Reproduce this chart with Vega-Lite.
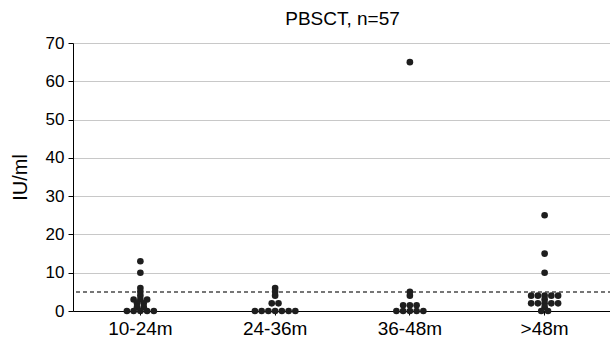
{
  "$schema": "https://vega.github.io/schema/vega-lite/v6.json",
  "autosize": "none",
  "width": 539,
  "height": 268,
  "padding": {"left": 73, "top": 43, "right": 0, "bottom": 30},
  "background": "white",
  "title": {
    "text": "PBSCT, n=57",
    "fontSize": 19,
    "fontWeight": "normal",
    "font": "Liberation Sans",
    "color": "black",
    "baseline": "bottom",
    "offset": 11,
    "dy": 25,
    "anchor": "middle"
  },
  "config": {
    "view": {"stroke": null},
    "font": "Liberation Sans",
    "axis": {
      "domainColor": "black",
      "tickColor": "black",
      "labelColor": "black",
      "titleColor": "black",
      "labelFont": "Liberation Sans",
      "titleFont": "Liberation Sans"
    },
    "axisY": {
      "titleFontSize": 20,
      "titleFontWeight": "normal",
      "titlePadding": 15,
      "values": [0, 5, 10, 15, 20, 25, 30, 35, 40, 45, 50, 55, 60, 65, 70],
      "labelExpr": "datum.value % 10 == 0 ? datum.label : ''",
      "labelOverlap": false,
      "labelFontSize": 17,
      "labelPadding": 4,
      "tickSize": 5,
      "grid": true,
      "gridColor": "#c8c8c8",
      "gridOpacity": {"condition": {"test": "datum.value % 10 != 0", "value": 0}, "value": 1}
    }
  },
  "data": {
    "values": [
      {"group": "10-24m", "iu": 13}, {"group": "10-24m", "iu": 10}, {"group": "10-24m", "iu": 6},
      {"group": "10-24m", "iu": 5}, {"group": "10-24m", "iu": 4}, {"group": "10-24m", "iu": 3},
      {"group": "10-24m", "iu": 3}, {"group": "10-24m", "iu": 3}, {"group": "10-24m", "iu": 2},
      {"group": "10-24m", "iu": 2}, {"group": "10-24m", "iu": 1}, {"group": "10-24m", "iu": 1},
      {"group": "10-24m", "iu": 0}, {"group": "10-24m", "iu": 0}, {"group": "10-24m", "iu": 0},
      {"group": "10-24m", "iu": 0}, {"group": "10-24m", "iu": 0},
      {"group": "24-36m", "iu": 6}, {"group": "24-36m", "iu": 5}, {"group": "24-36m", "iu": 4},
      {"group": "24-36m", "iu": 2}, {"group": "24-36m", "iu": 2}, {"group": "24-36m", "iu": 0},
      {"group": "24-36m", "iu": 0}, {"group": "24-36m", "iu": 0}, {"group": "24-36m", "iu": 0},
      {"group": "24-36m", "iu": 0}, {"group": "24-36m", "iu": 0}, {"group": "24-36m", "iu": 0},
      {"group": "36-48m", "iu": 65}, {"group": "36-48m", "iu": 5}, {"group": "36-48m", "iu": 4},
      {"group": "36-48m", "iu": 1.5}, {"group": "36-48m", "iu": 1.5}, {"group": "36-48m", "iu": 1.5},
      {"group": "36-48m", "iu": 0}, {"group": "36-48m", "iu": 0}, {"group": "36-48m", "iu": 0},
      {"group": "36-48m", "iu": 0}, {"group": "36-48m", "iu": 0},
      {"group": ">48m", "iu": 25}, {"group": ">48m", "iu": 15}, {"group": ">48m", "iu": 10},
      {"group": ">48m", "iu": 4}, {"group": ">48m", "iu": 4}, {"group": ">48m", "iu": 4},
      {"group": ">48m", "iu": 4}, {"group": ">48m", "iu": 4}, {"group": ">48m", "iu": 3},
      {"group": ">48m", "iu": 2}, {"group": ">48m", "iu": 2}, {"group": ">48m", "iu": 2},
      {"group": ">48m", "iu": 2}, {"group": ">48m", "iu": 2}, {"group": ">48m", "iu": 1},
      {"group": ">48m", "iu": 0}, {"group": ">48m", "iu": 0}
    ]
  },
  "layer": [
    {
      "mark": {"type": "rule", "strokeDash": [4, 3], "color": "#777777", "strokeWidth": 1.2},
      "encoding": {"y": {"datum": 5, "type": "quantitative", "scale": {"domain": [0, 70], "nice": false}, "title": "IU/ml"}}
    },
    {
      "transform": [
        {"window": [{"op": "row_number", "as": "rn"}, {"op": "count", "as": "cnt"}], "groupby": ["group", "iu"], "frame": [null, null]},
        {"calculate": "datum.rn - (datum.cnt + 1) / 2", "as": "slot"}
      ],
      "mark": {"type": "circle", "size": 44, "color": "#1e1e1e", "opacity": 1},
      "encoding": {
        "x": {
          "field": "group",
          "type": "nominal",
          "sort": ["10-24m", "24-36m", "36-48m", ">48m"],
          "scale": {"paddingInner": 0, "paddingOuter": 0},
          "axis": {"title": null, "labelAngle": 0, "labelFontSize": 19, "tickSize": 4, "labelPadding": 4, "domainWidth": 1.2}
        },
        "xOffset": {"field": "slot", "type": "quantitative", "scale": {"domain": [-10, 10]}},
        "y": {"field": "iu", "type": "quantitative", "title": "IU/ml"}
      }
    }
  ]
}
